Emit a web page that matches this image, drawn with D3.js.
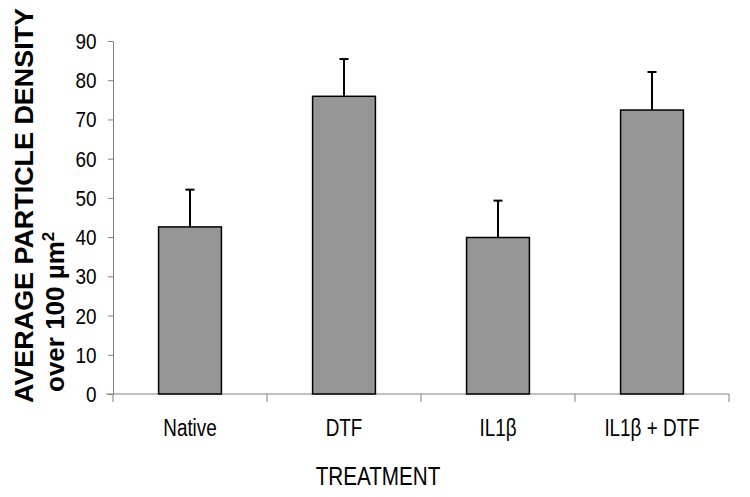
<!DOCTYPE html>
<html>
<head>
<meta charset="utf-8">
<script src="https://cdn.jsdelivr.net/npm/d3@7"></script>
<style>
body{margin:0;background:#fff;}
svg{display:block;}
text{font-family:"Liberation Sans",Arial,sans-serif;}
</style>
</head>
<body>
<svg id="chart" width="750" height="497"></svg>
<script>
const categories = ["Native", "DTF", "IL1\u03b2", "IL1\u03b2 + DTF"];
const means = [42.6, 75.9, 39.9, 72.4];
const errors = [9.5, 9.5, 9.4, 9.7];
const yTicks = [0, 10, 20, 30, 40, 50, 60, 70, 80, 90];

const svg = d3.select("#chart");
const x0 = 113, x1 = 729, yTop = 41, yBot = 394;
const narrow = 0.86;

const x = d3.scaleBand().domain(categories).range([x0, x1]).paddingInner(0.592).paddingOuter(0.296);
const y = d3.scaleLinear().domain([0, 90]).range([yBot, yTop]);

// y axis
const yAxis = svg.append("g").attr("transform", `translate(${x0},0)`)
  .call(d3.axisLeft(y).tickValues(yTicks).tickSize(5).tickSizeOuter(0).tickFormat(""));
yAxis.select(".domain").attr("stroke", "#808080");
yAxis.selectAll(".tick line").attr("stroke", "#808080");

// y tick labels (narrow)
svg.selectAll(".ylab").data(yTicks).enter().append("text")
  .attr("transform", d => `translate(96.5,${y(d) + 8}) scale(${narrow},1)`)
  .attr("text-anchor", "end").attr("font-size", 22).attr("fill", "#000")
  .text(d => d);

// x axis line (extends slightly left of y axis)
svg.append("line").attr("x1", x0 - 7).attr("x2", x1).attr("y1", yBot).attr("y2", yBot)
  .attr("stroke", "#808080").attr("stroke-width", 1);
// category boundary ticks
const step = x.step();
const bounds = d3.range(categories.length + 1).map(i => x0 + i * step);
svg.selectAll(".xtick").data(bounds).enter().append("line")
  .attr("x1", d => d).attr("x2", d => d).attr("y1", yBot).attr("y2", yBot + 8)
  .attr("stroke", "#808080");

// category labels
svg.selectAll(".xlab").data(categories).enter().append("text")
  .attr("transform", d => `translate(${x(d) + x.bandwidth() / 2},435.5) scale(0.77,1)`)
  .attr("text-anchor", "middle").attr("font-size", 24.5).attr("fill", "#000")
  .text(d => d);

// bars
svg.selectAll(".bar").data(categories).enter().append("rect")
  .attr("x", d => x(d)).attr("width", x.bandwidth())
  .attr("y", (d, i) => y(means[i])).attr("height", (d, i) => yBot - y(means[i]))
  .attr("fill", "#969696").attr("stroke", "#000").attr("stroke-width", 1.5);

// error bars
const eb = svg.selectAll(".err").data(categories).enter().append("g");
eb.append("line")
  .attr("x1", d => x(d) + x.bandwidth() / 2).attr("x2", d => x(d) + x.bandwidth() / 2)
  .attr("y1", (d, i) => y(means[i])).attr("y2", (d, i) => y(means[i] + errors[i]))
  .attr("stroke", "#000").attr("stroke-width", 2);
eb.append("line")
  .attr("x1", d => x(d) + x.bandwidth() / 2 - 4.5).attr("x2", d => x(d) + x.bandwidth() / 2 + 4.5)
  .attr("y1", (d, i) => y(means[i] + errors[i])).attr("y2", (d, i) => y(means[i] + errors[i]))
  .attr("stroke", "#000").attr("stroke-width", 2);

// axis titles
svg.append("text").attr("transform", "translate(33,403) rotate(-90)")
  .attr("text-anchor", "start").attr("font-size", 26.5).attr("font-weight", "bold")
  .attr("textLength", 395).attr("lengthAdjust", "spacingAndGlyphs")
  .text("AVERAGE PARTICLE DENSITY");
const t2 = svg.append("text").attr("transform", "translate(64,392) rotate(-90)")
  .attr("text-anchor", "start").attr("font-size", 26).attr("font-weight", "bold");
t2.append("tspan").text("over 100 \u00b5m");
t2.append("tspan").attr("font-size", 17).attr("dy", -10).text("2");

svg.append("text").attr("transform", "translate(378,485) scale(0.81,1)").attr("text-anchor", "middle")
  .attr("font-size", 25.5).attr("fill", "#000")
  .text("TREATMENT");
</script>
</body>
</html>
